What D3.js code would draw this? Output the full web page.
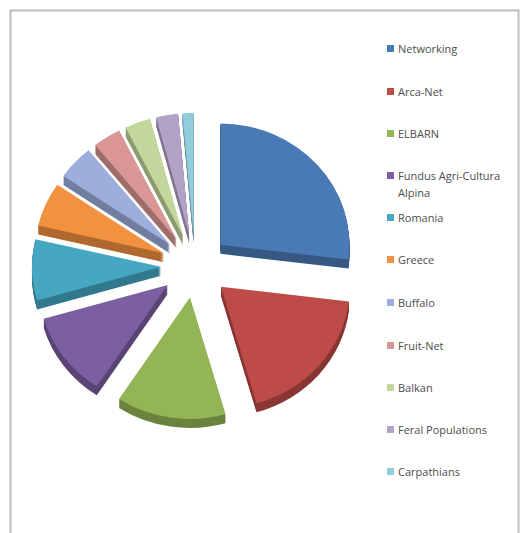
<!DOCTYPE html>
<html>
<head>
<meta charset="utf-8">
<script src="https://cdn.jsdelivr.net/npm/d3@7"></script>
<style>
  body { margin: 0; background: #fff; }
  svg { display: block; }
</style>
</head>
<body>
<svg width="523" height="533"></svg>
<script>
// data (share of total, %)
const categories = ["Networking", "Arca-Net", "ELBARN", "Fundus Agri-Cultura Alpina", "Romania",
  "Greece", "Buffalo", "Fruit-Net", "Balkan", "Feral Populations", "Carpathians"];
const values = [27.5, 19, 14, 11.5, 8.3, 6, 4.7, 3.6, 3.3, 2.8, 1.4];
const colors = ["#4a7ab5", "#bd4b48", "#94b556", "#7b5fa0", "#45a7c2",
  "#f29140", "#9daedc", "#d99694", "#c3d69b", "#b3a2c7", "#93cddd"];

const svg = d3.select("svg");

// chart frame
svg.append("rect")
  .attr("x", 10.5).attr("y", 10.5)
  .attr("width", 508).attr("height", 540)
  .attr("fill", "#fff")
  .attr("stroke", "#bdbdbd")
  .attr("stroke-width", 2);

// pie
const cx = 195, cy = 266, r = 129, sy = 0.94, explode = 34, depth = 9;

const pie = d3.pie().sort(null).value(d => d.v);
const arcs = pie(categories.map((c, i) => ({ name: c, v: values[i], color: colors[i] })));
const arc = d3.arc().innerRadius(0).outerRadius(r);

arcs.forEach(a => {
  const mid = (a.startAngle + a.endAngle) / 2;
  a.dx = Math.sin(mid) * explode;
  a.dy = -Math.cos(mid) * explode * sy;
});

const g = svg.append("g").attr("transform", `translate(${cx},${cy})`);

// back slices first so the front walls sit on top
const order = arcs.slice().sort((a, b) => a.dy - b.dy);

order.forEach(a => {
  const s = g.append("g").attr("transform", `translate(${a.dx},${a.dy})`);
  const side = d3.color(a.data.color).darker(0.9);
  for (let k = depth; k >= 1; k--) {
    s.append("path")
      .attr("d", arc(a))
      .attr("transform", `translate(0,${k}) scale(1,${sy})`)
      .attr("fill", side);
  }
  s.append("path")
    .attr("d", arc(a))
    .attr("transform", `scale(1,${sy})`)
    .attr("fill", a.data.color);
});

// legend
const legend = svg.append("g").attr("transform", "translate(387,49)");
const rowY = [0, 43, 85, 127, 169, 211, 254, 297, 339, 381, 423];

categories.forEach((c, i) => {
  const row = legend.append("g").attr("transform", `translate(0,${rowY[i]})`);
  row.append("rect")
    .attr("x", 0).attr("y", -4)
    .attr("width", 7).attr("height", 7)
    .attr("fill", colors[i]);
  const t = row.append("text")
    .attr("x", 11).attr("y", 4)
    .attr("font-family", "'Open Sans', sans-serif")
    .attr("font-size", 11)
    .attr("fill", "#4d4d4d");
  if (c === "Fundus Agri-Cultura Alpina") {
    t.append("tspan").attr("x", 11).text("Fundus Agri-Cultura");
    t.append("tspan").attr("x", 11).attr("dy", 17).text("Alpina");
  } else {
    t.text(c);
  }
});
</script>
</body>
</html>
